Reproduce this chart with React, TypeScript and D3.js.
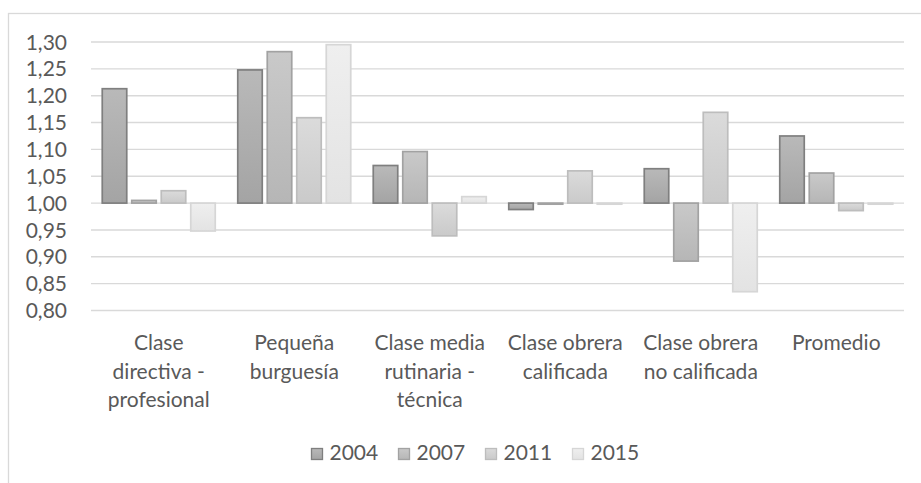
import React from "react";
import * as d3 from "d3";

const categories = [
  ["Clase", "directiva -", "profesional"],
  ["Pequeña", "burguesía"],
  ["Clase media", "rutinaria -", "técnica"],
  ["Clase obrera", "calificada"],
  ["Clase obrera", "no calificada"],
  ["Promedio"],
];
const seriesNames = ["2004", "2007", "2011", "2015"];
const v2004 = [1.213, 1.248, 1.07, 0.988, 1.064, 1.125];
const v2007 = [1.005, 1.282, 1.096, 0.998, 0.892, 1.056];
const v2011 = [1.023, 1.159, 0.939, 1.06, 1.169, 0.986];
const v2015 = [0.948, 1.295, 1.012, 0.998, 0.835, 0.998];
const yTicks = [0.8, 0.85, 0.9, 0.95, 1.0, 1.05, 1.1, 1.15, 1.2, 1.25, 1.3];

const seriesValues = [v2004, v2007, v2011, v2015];
const fills = [
  ["#b9b9b9", "#a4a4a4"],
  ["#c9c9c9", "#b6b6b6"],
  ["#dbdbdb", "#cacaca"],
  ["#efefef", "#e3e3e3"],
];
const strokes = ["#7f7f7f", "#a2a2a2", "#bdbdbd", "#d6d6d6"];

export default function App() {
  const W = 921, H = 483;
  const left = 91, right = 904;
  const y = d3.scaleLinear().domain([0.8, 1.3]).range([310.5, 42]);
  const x0 = d3.scaleBand<number>().domain(d3.range(categories.length)).range([left, right]).padding(0);
  const groupW = 118;
  const x1 = d3.scaleBand<string>().domain(seriesNames).range([0, groupW]).padding(0);
  const barW = x1.bandwidth() - 5;
  const font = "Lato, 'Open Sans', sans-serif";
  const textColor = "#595959";
  const base = y(1.0);

  const legendStart = 311;
  const legendStep = 87;

  return (
    <svg width={W} height={H} style={{ position: "absolute", left: 0, top: 0 }}>
      <defs>
        {fills.map((f, i) => (
          <linearGradient key={i} id={`g${i}`} x1="0" y1="0" x2="0" y2="1">
            <stop offset="0" stopColor={f[0]} />
            <stop offset="1" stopColor={f[1]} />
          </linearGradient>
        ))}
      </defs>
      <rect x={0} y={0} width={W} height={H} fill="#fff" />
      <rect x={8.5} y={13.5} width={W + 20} height={H + 20} fill="none" stroke="#d9d9d9" strokeWidth={1.3} />
      {yTicks.map((t) => (
        <g key={t}>
          <line x1={left} x2={right} y1={y(t)} y2={y(t)} stroke="#d9d9d9" strokeWidth={1.4} />
          <text x={67} y={y(t)} dy="0.36em" textAnchor="end" fontFamily={font} fontSize={21} fill={textColor}>
            {d3.format(".2f")(t).replace(".", ",")}
          </text>
        </g>
      ))}
      {seriesValues.map((vals, si) =>
        vals.map((v, ci) => {
          const bx = (x0(ci) as number) + (x0.bandwidth() - groupW) / 2 + (x1(seriesNames[si]) as number) + 2.5;
          const top = Math.min(y(v), base);
          const h = Math.max(Math.abs(y(v) - base), 0.5);
          return (
            <rect key={`${si}-${ci}`} x={bx} y={top} width={barW} height={h}
              fill={`url(#g${si})`} stroke={strokes[si]} strokeWidth={1.7} />
          );
        })
      )}
      {categories.map((lines, ci) => (
        <text key={ci} textAnchor="middle" fontFamily={font} fontSize={21} fill={textColor}>
          {lines.map((l, li) => (
            <tspan key={li} x={(x0(ci) as number) + x0.bandwidth() / 2} y={350 + li * 28.5}>{l}</tspan>
          ))}
        </text>
      ))}
      {seriesNames.map((s, i) => (
        <g key={s} transform={`translate(${legendStart + i * legendStep},0)`}>
          <rect x={0.5} y={448.5} width={11} height={11} fill={`url(#g${i})`} stroke={strokes[i]} strokeWidth={1.3} />
          <text x={18.5} y={460} fontFamily={font} fontSize={21} fill={textColor}>{s}</text>
        </g>
      ))}
    </svg>
  );
}
